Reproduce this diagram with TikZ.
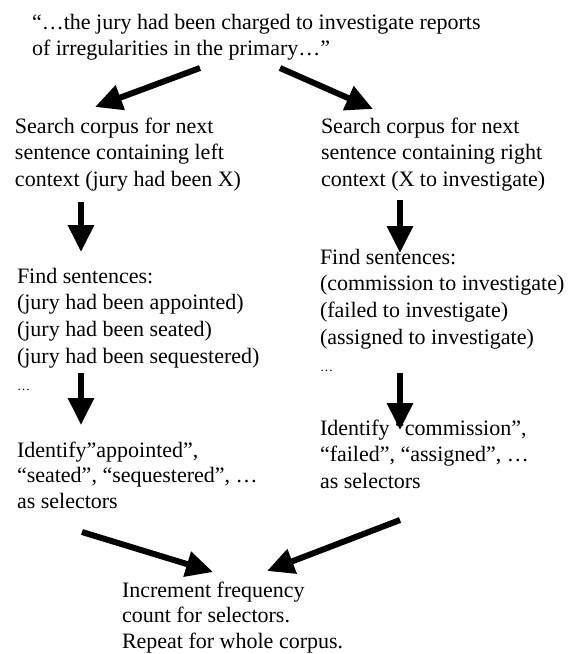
\documentclass[tikz,border=0pt]{standalone}
\usepackage{fontspec}
\setmainfont{Liberation Serif}
\usetikzlibrary{arrows.meta}
\tikzset{
  txt/.style={anchor=base west, inner sep=0pt, outer sep=0pt,
    font=\fontsize{22}{26.8}\selectfont},
  arr/.style={line width=6pt, -{Triangle[length=27pt,width=25pt]}}
}
\newcommand{\stack}[1]{\begin{tabular}[t]{@{}l@{}}#1\end{tabular}}
\newcommand{\smalldots}{{\fontsize{13}{13}\selectfont …}}
\begin{document}
\begin{tikzpicture}[x=1pt,y=-1pt]
\useasboundingbox[fill=white] (0,0) rectangle (568,654);
% text nodes
\node[txt] (top) at (32,29) {\stack{“…the jury had been charged to investigate reports\\of irregularities in the primary…”}};
\node[txt] (l1) at (15,133) {\stack{Search corpus for next\\sentence containing left\\context (jury had been X)}};
\node[txt] (r1) at (321,133) {\stack{Search corpus for next\\sentence containing right\\context (X to investigate)}};
\node[txt] (l2) at (17,283) {\stack{Find sentences:\\(jury had been appointed)\\(jury had been seated)\\(jury had been sequestered)\\\smalldots}};
\node[txt] (r2) at (320,264) {\stack{Find sentences:\\(commission to investigate)\\(failed to investigate)\\(assigned to investigate)\\\smalldots}};
\node[txt, font=\fontsize{22}{25.8}\selectfont] (l3) at (17,457) {\stack{Identify”appointed”,\\“seated”, “sequestered”, …\\as selectors}};
\node[txt] (r3) at (320,435) {\stack{Identify “commission”,\\“failed”, “assigned”, …\\as selectors}};
\node[txt, font=\fontsize{22}{25.8}\selectfont] (bot) at (122,597) {\stack{Increment frequency\\count for selectors.\\Repeat for whole corpus.}};
% connector end points
\coordinate (a1s) at (200,68);  \coordinate (a1e) at (95,107);
\coordinate (a2s) at (280,68);  \coordinate (a2e) at (373,109);
\coordinate (a3s) at (81,202);  \coordinate (a3e) at (81,252);
\coordinate (a4s) at (400,200); \coordinate (a4e) at (400,253);
\coordinate (a5s) at (81,373);  \coordinate (a5e) at (81,425);
\coordinate (a6s) at (400,373); \coordinate (a6e) at (400,430);
\coordinate (a7s) at (82,532);  \coordinate (a7e) at (213,572);
\coordinate (a8s) at (400,520); \coordinate (a8e) at (267,571);
% connectors
\draw[arr] (a1s) -- (a1e);
\draw[arr] (a2s) -- (a2e);
\draw[arr] (a3s) -- (a3e);
\draw[arr] (a4s) -- (a4e);
\draw[arr] (a5s) -- (a5e);
\draw[arr] (a6s) -- (a6e);
\draw[arr] (a7s) -- (a7e);
\draw[arr] (a8s) -- (a8e);
\end{tikzpicture}
\end{document}
